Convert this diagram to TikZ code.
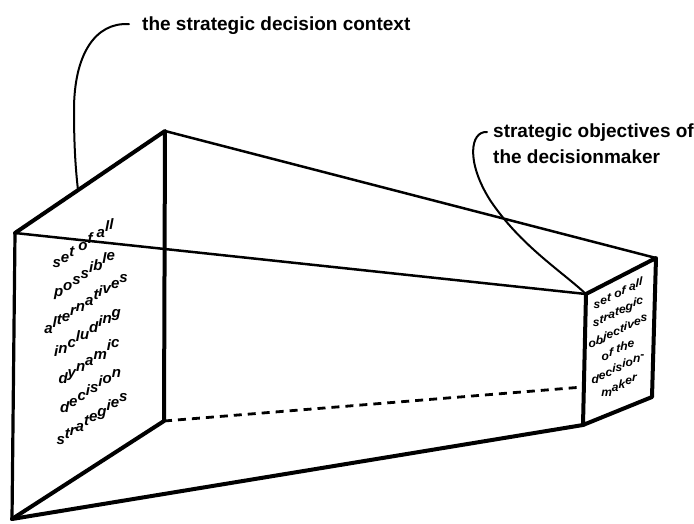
\documentclass[tikz,border=0pt]{standalone}
\usepackage{fontspec}
\setmainfont{Liberation Sans}
\usetikzlibrary{calc}
% \slantline{slope}{text}: sets the text with each letter raised so that the
% baseline rises with the given slope (letters stay upright), centred on the
% midpoint of the baseline
\makeatletter
\newdimen\sl@acc
\newdimen\sl@w
\newcommand\slantline[2]{%
  \hbox{%
    \def\sl@slope{#1}%
    \setbox\z@\hbox{#2}%
    \sl@acc=-0.5\wd\z@
    \sl@scan#2\@nil}}
\def\sl@scan{\futurelet\sl@next\sl@check}
\def\sl@check{%
  \ifx\sl@next\@nil
    \let\sl@do\@gobble
  \else\ifx\sl@next\@sptoken
    \let\sl@do\sl@space
  \else
    \let\sl@do\sl@char
  \fi\fi
  \sl@do}
\expandafter\def\expandafter\sl@space\space{\sl@put{\ }\sl@scan}
\def\sl@char#1{\sl@put{#1}\sl@scan}
\def\sl@put#1{%
  \setbox\z@\hbox{#1}%
  \sl@w=\wd\z@
  \raise\sl@slope\sl@acc\box\z@
  \advance\sl@acc\sl@w}
\makeatother
\begin{document}
\begin{tikzpicture}[x=1pt,y=-1pt,
  thickedge/.style={line width=4pt, line cap=round, line join=round},
  midedge/.style={line width=3.2pt, line cap=round},
  thinedge/.style={line width=2.5pt, line cap=round},
  hidden/.style={line width=2.8pt, dash pattern=on 8pt off 6pt},
  leader/.style={line width=2pt, line cap=round},
  lbl/.style={font=\fontsize{19}{26}\selectfont\bfseries, inner sep=0pt, align=left},
  bigline/.style={font=\fontsize{15}{27}\selectfont\bfseries\itshape, inner sep=0pt, anchor=base},
  smallline/.style={font=\fontsize{12}{17}\selectfont\bfseries\itshape, inner sep=0pt, anchor=base}]
\useasboundingbox (0,0) rectangle (694,523);
% corners of the large face
\coordinate (LTL) at (15,233);
\coordinate (LTR) at (165,131);
\coordinate (LBR) at (164,421);
\coordinate (LBL) at (12,519);
% corners of the small face
\coordinate (STL) at (586,294);
\coordinate (STR) at (656,258);
\coordinate (SBR) at (652,397);
\coordinate (SBL) at (583,425);
\coordinate (SHID) at (583,387);
% connecting lines
\draw[thinedge] (LTR) -- (STR);
\draw[thinedge] (LTL) -- (STL);
\draw[thickedge] (LBL) -- (SBL);
\draw[hidden] (LBR) -- (SHID);
% large face
\draw[midedge] (LTL) -- (LBL);
\draw[thickedge] (LBL) -- (LBR) -- (LTR) -- (LTL);
% small face
\draw[thickedge] (STL) -- (STR) -- (SBR) -- (SBL) -- cycle;
% text on the large face
\node[bigline] (a1) at (83,247)   {\slantline{0.68}{set of all}};
\node[bigline] (a2) at (84.5,276) {\slantline{0.68}{possible}};
\node[bigline] (a3) at (86,305)   {\slantline{0.68}{alternatives}};
\node[bigline] (a4) at (87.5,334) {\slantline{0.68}{including}};
\node[bigline] (a5) at (89,363)   {\slantline{0.68}{dynamic}};
\node[bigline] (a6) at (90.5,392) {\slantline{0.68}{decision}};
\node[bigline] (a7) at (92,420)   {\slantline{0.68}{strategies}};
% text on the small face
\node[smallline] (b1) at (618,296) {\slantline{0.5}{set of all}};
\node[smallline] (b2) at (618,314) {\slantline{0.5}{strategic}};
\node[smallline] (b3) at (618,333) {\slantline{0.5}{objectives}};
\node[smallline] (b4) at (618,352) {\slantline{0.5}{of the}};
\node[smallline] (b5) at (618,370) {\slantline{0.5}{decision-}};
\node[smallline] (b6) at (619,388) {\slantline{0.5}{maker}};
% labels
\node[lbl, anchor=base west] (ctx) at (142,30) {the strategic decision context};
\node[lbl, anchor=north west] (obj) at (493,124) {strategic objectives of\\the decisionmaker};
\coordinate (ctxend) at ($(LTL)!0.42!(LTR)$);
\draw[leader] ($(ctx.west)+(-13,-1)$) .. controls (95,22) and (74,55) .. (74,110)
  .. controls (74,150) and (76,172) .. (ctxend);
\draw[leader] ($(obj.north west)+(-6,8)$) .. controls (470,131) and (466,162) .. (490,200)
  .. controls (520,245) and (560,270) .. (STL);
\end{tikzpicture}
\end{document}
